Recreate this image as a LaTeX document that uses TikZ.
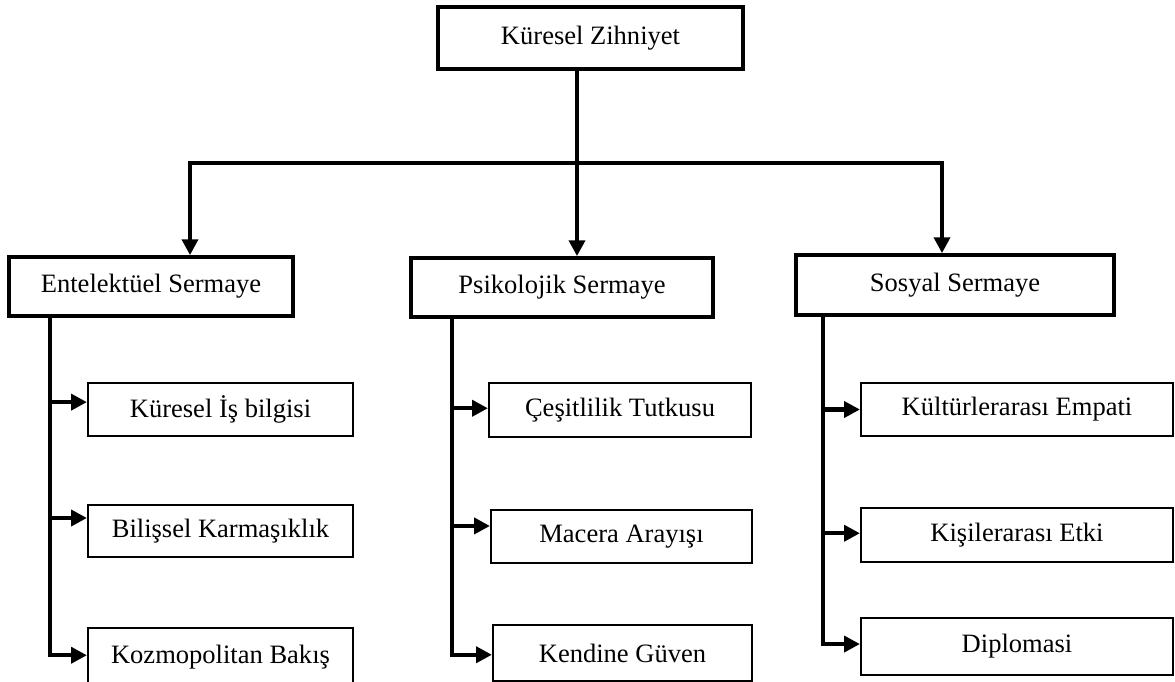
\documentclass[tikz,border=0pt]{standalone}
\usepackage{fontspec}
\setmainfont{Liberation Serif}
\usetikzlibrary{arrows.meta}

\begin{document}
\begin{tikzpicture}[x=0.02cm, y=-0.02cm, >={Triangle[length=9pt,width=9pt]},
  main/.style={draw, line width=2.1pt, inner sep=0pt, font=\fontsize{15.1}{18}\selectfont},
  leaf/.style={draw, line width=1.2pt, inner sep=0pt, font=\fontsize{15.1}{18}\selectfont},
  link/.style={line width=2.3pt}]
  \useasboundingbox (0,0) rectangle (1175,682);

  \node[main, minimum width=305*0.02cm, minimum height=62*0.02cm] (top) at (590.5,38) {Küresel Zihniyet};

  \node[main, minimum width=284*0.02cm, minimum height=59*0.02cm] (ent) at (151,286.5) {Entelektüel Sermaye};
  \node[main, minimum width=302*0.02cm, minimum height=59*0.02cm] (psi) at (562,287.5) {Psikolojik Sermaye};
  \node[main, minimum width=318*0.02cm, minimum height=60*0.02cm] (sos) at (955,285) {Sosyal Sermaye};

  \node[leaf, minimum width=265*0.02cm, minimum height=53*0.02cm] (k1) at (220.5,409.5) {Küresel İş bilgisi};
  \node[leaf, minimum width=265*0.02cm, minimum height=52*0.02cm] (k2) at (220.5,531) {Bilişsel Karmaşıklık};
  \node[leaf, minimum width=265*0.02cm, minimum height=58*0.02cm] (k3) at (220.5,657) {Kozmopolitan Bakış};

  \node[leaf, minimum width=262*0.02cm, minimum height=54*0.02cm] (c1) at (620,410) {Çeşitlilik Tutkusu};
  \node[leaf, minimum width=261*0.02cm, minimum height=53*0.02cm] (c2) at (621.5,536.5) {Macera Arayışı};
  \node[leaf, minimum width=259*0.02cm, minimum height=56*0.02cm] (c3) at (622.5,653) {Kendine Güven};

  \node[leaf, minimum width=312*0.02cm, minimum height=53*0.02cm] (s1) at (1017,409.5) {Kültürlerarası Empati};
  \node[leaf, minimum width=312*0.02cm, minimum height=54*0.02cm] (s2) at (1017,535) {Kişilerarası Etki};
  \node[leaf, minimum width=312*0.02cm, minimum height=57*0.02cm] (s3) at (1017,646.5) {Diplomasi};

  % branching from the top box
  \coordinate (hub) at (577,163);
  \coordinate (hl) at (190,163);
  \coordinate (hr) at (942,163);
  \draw[link,->] (hub |- top.south) -- (hub |- psi.north);
  \draw[link,->] (hr) -- (hl) -- (hl |- ent.north);
  \draw[link,->] (hl) -- (hr) -- (hr |- sos.north);

  % arrow ends on the small boxes
  \coordinate (k1a) at ([yshift=4.2pt]k1.west);
  \coordinate (k2a) at ([yshift=7.4pt]k2.west);
  \coordinate (k3a) at ([yshift=1pt]k3.west);
  \coordinate (c1a) at ([yshift=1pt]c1.west);
  \coordinate (c2a) at ([yshift=6pt]c2.west);
  \coordinate (c3a) at ([yshift=-1pt]c3.west);
  \coordinate (s1a) at (s1.west);
  \coordinate (s2a) at ([yshift=1pt]s2.west);
  \coordinate (s3a) at ([yshift=1.4pt]s3.west);

  \coordinate (lt) at (50,0);
  \coordinate (mt) at (452,0);
  \coordinate (rt) at (823,0);

  \draw[link,->] (lt |- ent.south) -- (lt |- k3a) -- (k3a);
  \draw[link,->] (lt |- k1a) -- (k1a);
  \draw[link,->] (lt |- k2a) -- (k2a);

  \draw[link,->] (mt |- psi.south) -- (mt |- c3a) -- (c3a);
  \draw[link,->] (mt |- c1a) -- (c1a);
  \draw[link,->] (mt |- c2a) -- (c2a);

  \draw[link,->] (rt |- sos.south) -- (rt |- s3a) -- (s3a);
  \draw[link,->] (rt |- s1a) -- (s1a);
  \draw[link,->] (rt |- s2a) -- (s2a);
\end{tikzpicture}
\end{document}
